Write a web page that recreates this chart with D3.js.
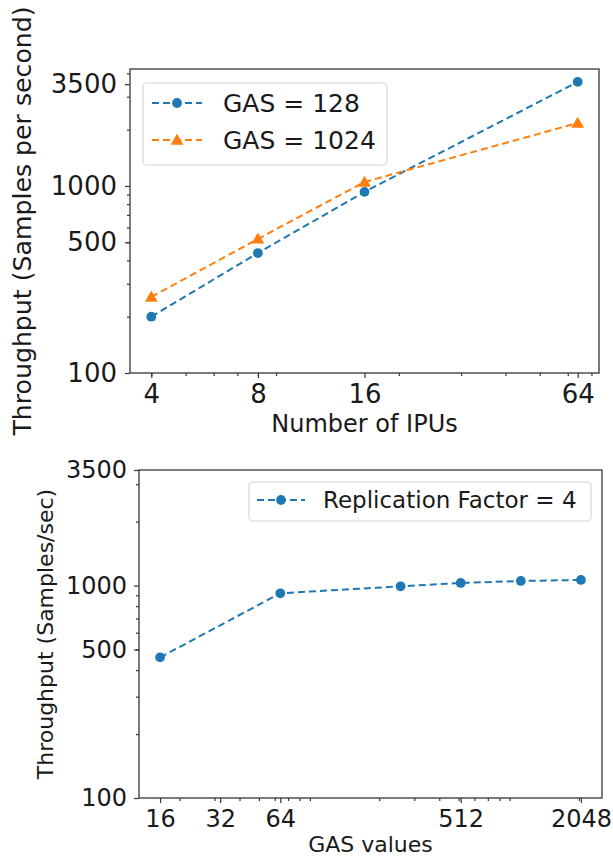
<!DOCTYPE html>
<html>
<head>
<meta charset="utf-8">
<script src="https://cdn.jsdelivr.net/npm/d3@7"></script>
<style>
  html, body { margin: 0; padding: 0; background: #fff; }
  svg { display: block; }
  text { font-family: "DejaVu Sans", sans-serif; fill: #1a1a1a; }
</style>
</head>
<body>
<svg id="chart" width="613" height="857"></svg>
<script>
// ---------- Data ----------
const ipus = [4, 8, 16, 64];
const gas128 = [200, 438, 930, 3600];
const gas1024 = [255, 521, 1050, 2170];
const topXTicks = [4, 8, 16, 64];
const topYTicks = [100, 500, 1000, 3500];
const topSeriesNames = ["GAS = 128", "GAS = 1024"];

const gasValues = [16, 64, 256, 512, 1024, 2048];
const rf4 = [459, 920, 992, 1029, 1051, 1063];
const botXTicks = [16, 32, 64, 512, 2048];
const botYTicks = [100, 500, 1000, 3500];
const botSeriesName = "Replication Factor = 4";

const BLUE = "#1f77b4", ORANGE = "#ff7f0e";
const svg = d3.select("#chart");

function minorLog(lo, hi) {
  const out = [];
  for (let e = -1; e <= 5; e++) {
    for (let m = 2; m <= 9; m++) {
      const v = m * Math.pow(10, e);
      if (v >= lo && v <= hi) out.push(v);
    }
  }
  return out;
}

function panel(cfg) {
  const g = svg.append("g");
  const x = d3.scaleLog().base(2).domain(cfg.xDomain).range([cfg.left, cfg.right]);
  const y = d3.scaleLog().domain(cfg.yDomain).range([cfg.bottom, cfg.top]);

  const xMinor = d3.axisBottom(x).tickValues(minorLog(cfg.xDomain[0], cfg.xDomain[1]))
    .tickSize(3).tickFormat("");
  g.append("g").attr("transform", `translate(0,${cfg.bottom})`).call(xMinor)
    .call(a => a.select(".domain").remove());
  const yMinor = d3.axisLeft(y).tickValues(minorLog(cfg.yDomain[0], cfg.yDomain[1]))
    .tickSize(3).tickFormat("");
  g.append("g").attr("transform", `translate(${cfg.left},0)`).call(yMinor)
    .call(a => a.select(".domain").remove());

  const xAxis = d3.axisBottom(x).tickValues(cfg.xTicks).tickSize(5).tickPadding(cfg.xPad)
    .tickFormat(d3.format("d"));
  const xa = g.append("g").attr("transform", `translate(0,${cfg.bottom})`).call(xAxis);
  xa.select(".domain").remove();
  xa.selectAll("text").attr("font-size", cfg.tickFont).attr("fill", "#1a1a1a")
    .style("font-family", "DejaVu Sans");
  const yAxis = d3.axisLeft(y).tickValues(cfg.yTicks).tickSize(5).tickPadding(cfg.yPad)
    .tickFormat(d3.format("d"));
  const ya = g.append("g").attr("transform", `translate(${cfg.left},0)`).call(yAxis);
  ya.select(".domain").remove();
  ya.selectAll("text").attr("font-size", cfg.tickFont).attr("fill", "#1a1a1a")
    .style("font-family", "DejaVu Sans");
  g.selectAll(".tick line").attr("stroke", "#333").attr("stroke-width", 1.2);

  g.append("rect").attr("x", cfg.left).attr("y", cfg.top)
    .attr("width", cfg.right - cfg.left).attr("height", cfg.bottom - cfg.top)
    .attr("fill", "none").attr("stroke", "#444").attr("stroke-width", 1.4);

  g.append("text").attr("x", (cfg.left + cfg.right) / 2).attr("y", cfg.xLabelY)
    .attr("text-anchor", "middle").attr("font-size", cfg.xLabelFont).text(cfg.xLabel);
  g.append("text")
    .attr("transform", `translate(${cfg.yLabelX},${cfg.yLabelC}) rotate(-90)`)
    .attr("text-anchor", "middle").attr("dominant-baseline", "central")
    .attr("font-size", cfg.yLabelFont).text(cfg.yLabel);

  return { g, x, y };
}

function drawSeries(p, xs, ys, color, marker) {
  const line = d3.line().x((d, i) => p.x(xs[i])).y(d => p.y(d));
  p.g.append("path").datum(ys).attr("d", line).attr("fill", "none")
    .attr("stroke", color).attr("stroke-width", 2).attr("stroke-dasharray", "7,4");
  const sym = d3.symbol().type(marker === "tri" ? d3.symbolTriangle : d3.symbolCircle)
    .size(marker === "tri" ? 70 : 75);
  p.g.selectAll(null).data(ys).enter().append("path")
    .attr("d", sym)
    .attr("transform", (d, i) => `translate(${p.x(xs[i])},${p.y(d) + (marker === "tri" ? 1 : 0)})`)
    .attr("fill", color);
}

function legend(g, x0, y0, w, h, items, font, rowH, sampleX, textX) {
  g.append("rect").attr("x", x0).attr("y", y0).attr("width", w).attr("height", h)
    .attr("rx", 4).attr("fill", "#fff").attr("fill-opacity", 0.9)
    .attr("stroke", "#d6d6d6").attr("stroke-width", 1.2);
  items.forEach((it, i) => {
    const cy = y0 + rowH[i];
    g.append("line").attr("x1", x0 + sampleX[0]).attr("x2", x0 + sampleX[1])
      .attr("y1", cy).attr("y2", cy).attr("stroke", it.color).attr("stroke-width", 2)
      .attr("stroke-dasharray", "7,4");
    const sym = d3.symbol().type(it.marker === "tri" ? d3.symbolTriangle : d3.symbolCircle)
      .size(it.marker === "tri" ? 70 : 75);
    g.append("path").attr("d", sym)
      .attr("transform", `translate(${x0 + (sampleX[0] + sampleX[1]) / 2},${cy + (it.marker === "tri" ? 1 : 0)})`)
      .attr("fill", it.color);
    g.append("text").attr("x", x0 + textX).attr("y", cy)
      .attr("dominant-baseline", "central").attr("font-size", font).text(it.label);
  });
}

// ---------- Top panel ----------
const topPanel = panel({
  left: 130, right: 599, top: 69, bottom: 373,
  xDomain: [Math.pow(2, 1.8), Math.pow(2, 6.2)], yDomain: [100, 4220],
  xTicks: topXTicks, yTicks: topYTicks, tickFont: 26, xPad: 7, yPad: 8,
  xLabel: "Number of IPUs", xLabelY: 432, xLabelFont: 24,
  yLabel: "Throughput (Samples per second)", yLabelX: 22, yLabelC: 221, yLabelFont: 25.2
});
drawSeries(topPanel, ipus, gas128, BLUE, "circle");
drawSeries(topPanel, ipus, gas1024, ORANGE, "tri");
legend(topPanel.g, 143, 83, 244, 82,
  [{ label: topSeriesNames[0], color: BLUE, marker: "circle" },
   { label: topSeriesNames[1], color: ORANGE, marker: "tri" }],
  25, [20, 57], [9, 59], 80);

// ---------- Bottom panel ----------
const botPanel = panel({
  left: 139, right: 602, top: 470, bottom: 798,
  xDomain: [Math.pow(2, 3.65), Math.pow(2, 11.35)], yDomain: [100, 3500],
  xTicks: botXTicks, yTicks: botYTicks, tickFont: 24, xPad: 7, yPad: 7,
  xLabel: "GAS values", xLabelY: 852, xLabelFont: 22,
  yLabel: "Throughput (Samples/sec)", yLabelX: 45, yLabelC: 634, yLabelFont: 22
});
drawSeries(botPanel, gasValues, rf4, BLUE, "circle");
legend(botPanel.g, 249, 482, 342, 39,
  [{ label: botSeriesName, color: BLUE, marker: "circle" }],
  23, [18], [8, 56], 74);
</script>
</body>
</html>
